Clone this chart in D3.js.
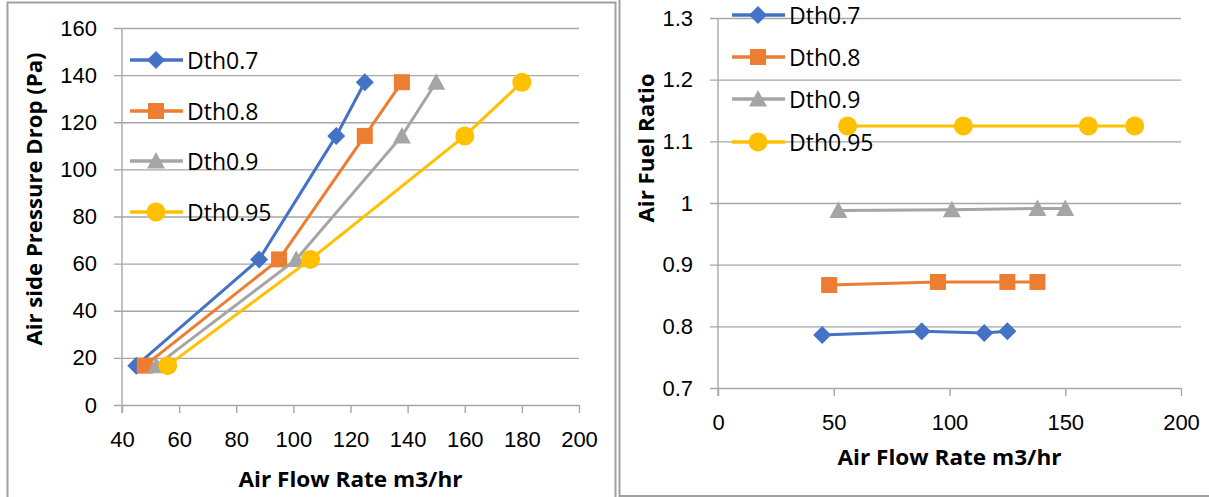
<!DOCTYPE html>
<html>
<head>
<meta charset="utf-8">
<script src="https://cdn.jsdelivr.net/npm/d3@7"></script>
<style>
  html, body { margin: 0; padding: 0; background: #fff; }
  svg { display: block; font-family: "Open Sans", "Noto Sans", sans-serif; }
</style>
</head>
<body>
<div id="chart"></div>
<script>
// data
let seriesNames = ["Dth0.7", "Dth0.8", "Dth0.9", "Dth0.95"];
let seriesColors = ["#4472C4", "#ED7D31", "#A5A5A5", "#FFC000"];
let seriesShapes = ["diamond", "square", "triangle", "circle"];

let flowDth07 = [45, 88, 115, 125];
let flowDth08 = [48, 95, 125, 138];
let flowDth09 = [52, 101, 138, 150];
let flowDth095 = [56, 106, 160, 180];

let pressureDrop = [16.7, 61.8, 114.2, 137];

let afrDth07 = [0.786, 0.792, 0.789, 0.792];
let afrDth08 = [0.867, 0.872, 0.872, 0.872];
let afrDth09 = [0.988, 0.989, 0.991, 0.991];
let afrDth095 = [1.125, 1.125, 1.125, 1.125];

let leftXTicks = [40, 60, 80, 100, 120, 140, 160, 180, 200];
let leftYTicks = [0, 20, 40, 60, 80, 100, 120, 140, 160];
let rightXTicks = [0, 50, 100, 150, 200];
let rightYTicks = [0.7, 0.8, 0.9, 1.0, 1.1, 1.2, 1.3];

let flows = [flowDth07, flowDth08, flowDth09, flowDth095];
let afrs = [afrDth07, afrDth08, afrDth09, afrDth095];

let W = 1209, H = 497;
let svg = d3.select("#chart").append("svg")
	.attr("width", W)
	.attr("height", H);

let gridColor = "#a6a6a6";
let tickFont = "22px";

// outer frames of the two pasted charts
svg.append("rect")
	.attr("x", 7.5).attr("y", 2.5)
	.attr("width", 608).attr("height", 520)
	.attr("fill", "none").attr("stroke", "#a0a0a0").attr("stroke-width", 2);
svg.append("rect")
	.attr("x", 619.5).attr("y", -20)
	.attr("width", 620).attr("height", 516)
	.attr("fill", "none").attr("stroke", "#a0a0a0").attr("stroke-width", 2);

function marker(g, shape, color, cx, cy) {
	if (shape == "circle") {
		g.append("circle").attr("cx", cx).attr("cy", cy).attr("r", 9.5).attr("fill", color);
	} else if (shape == "square") {
		g.append("rect").attr("x", cx - 8).attr("y", cy - 8).attr("width", 16).attr("height", 16).attr("fill", color);
	} else if (shape == "diamond") {
		g.append("path").attr("d", `M${cx},${cy - 9}L${cx + 9},${cy}L${cx},${cy + 9}L${cx - 9},${cy}Z`).attr("fill", color);
	} else {
		g.append("path").attr("d", `M${cx},${cy - 9}L${cx + 9},${cy + 7.5}L${cx - 9},${cy + 7.5}Z`).attr("fill", color);
	}
}

function drawChart(opt) {
	let g = svg.append("g");
	let xScale = d3.scaleLinear().domain(opt.xDomain).range([opt.x0, opt.x1]);
	let yScale = d3.scaleLinear().domain(opt.yDomain).range([opt.yBot, opt.yTop]);

	// gridlines + y labels
	let yAxis = d3.axisLeft(yScale)
		.tickValues(opt.yTicks)
		.tickSizeInner(-(opt.x1 - opt.x0 + 8))
		.tickSizeOuter(0)
		.tickPadding(17)
		.tickFormat(opt.yFormat);
	let ya = g.append("g")
		.attr("transform", `translate(${opt.x0 - 8},0)`)
		.call(yAxis);
	ya.select(".domain").remove();
	ya.selectAll("line").attr("stroke", gridColor).attr("stroke-width", 1.4);
	ya.selectAll("text").style("font-size", tickFont).attr("fill", "#000");

	// x axis ticks + labels
	let xAxis = d3.axisBottom(xScale)
		.tickValues(opt.xTicks)
		.tickSizeInner(8)
		.tickSizeOuter(0)
		.tickPadding(18.5);
	let xa = g.append("g")
		.attr("transform", `translate(0,${opt.yBot})`)
		.call(xAxis);
	xa.select(".domain").remove();
	xa.selectAll("line").attr("stroke", gridColor).attr("stroke-width", 1.4);
	xa.selectAll("text").style("font-size", tickFont).attr("fill", "#000");

	// vertical axis line
	g.append("line")
		.attr("x1", opt.x0).attr("x2", opt.x0)
		.attr("y1", opt.yTop).attr("y2", opt.yBot + 8)
		.attr("stroke", gridColor).attr("stroke-width", 1.4);

	// series
	seriesNames.forEach((name, i) => {
		let pts = opt.xs[i].map((x, j) => [x, opt.ys[i][j]]);
		g.append("path")
			.datum(pts)
			.attr("d", d3.line().x(d => xScale(d[0])).y(d => yScale(d[1])))
			.attr("fill", "none")
			.attr("stroke", seriesColors[i])
			.attr("stroke-width", 3);
		pts.forEach(d => marker(g, seriesShapes[i], seriesColors[i], xScale(d[0]), yScale(d[1])));
	});

	// legend
	seriesNames.forEach((name, i) => {
		let ly = opt.legendY[i];
		g.append("line")
			.attr("x1", opt.legendX).attr("x2", opt.legendX + 53)
			.attr("y1", ly).attr("y2", ly)
			.attr("stroke", seriesColors[i]).attr("stroke-width", 3.5);
		marker(g, seriesShapes[i], seriesColors[i], opt.legendX + 26, ly);
		g.append("text")
			.attr("x", opt.legendX + 57)
			.attr("y", ly + 8.5)
			.style("font-size", "23px")
			.text(name);
	});

	// axis titles
	g.append("text")
		.attr("x", (opt.x0 + opt.x1) / 2)
		.attr("y", opt.xTitleY)
		.attr("text-anchor", "middle")
		.attr("textLength", 224)
		.attr("lengthAdjust", "spacingAndGlyphs")
		.style("font-size", "22px")
		.style("font-weight", "bold")
		.text("Air Flow Rate m3/hr");
	g.append("text")
		.attr("transform", `translate(${opt.yTitleX},${opt.yTitleCy}) rotate(-90)`)
		.attr("text-anchor", "middle")
		.attr("textLength", opt.yTitleLen)
		.attr("lengthAdjust", "spacingAndGlyphs")
		.style("font-size", "22px")
		.style("font-weight", "bold")
		.text(opt.yTitle);
}

drawChart({
	x0: 122, x1: 579, yTop: 28, yBot: 405,
	xDomain: [40, 200], yDomain: [0, 160],
	xTicks: leftXTicks, yTicks: leftYTicks,
	yFormat: d3.format("d"),
	xs: flows, ys: flows.map(() => pressureDrop),
	legendX: 130, legendY: [60, 111, 161, 212],
	xTitleY: 487,
	yTitle: "Air side Pressure Drop (Pa)", yTitleX: 42, yTitleCy: 199, yTitleLen: 293
});

drawChart({
	x0: 718, x1: 1181, yTop: 18, yBot: 388,
	xDomain: [0, 200], yDomain: [0.7, 1.3],
	xTicks: rightXTicks, yTicks: rightYTicks,
	yFormat: d => String(+d.toFixed(1)),
	xs: flows, ys: afrs,
	legendX: 732, legendY: [15, 57, 99, 142],
	xTitleY: 465,
	yTitle: "Air Fuel Ratio", yTitleX: 654, yTitleCy: 148, yTitleLen: 149
});
</script>
</body>
</html>
